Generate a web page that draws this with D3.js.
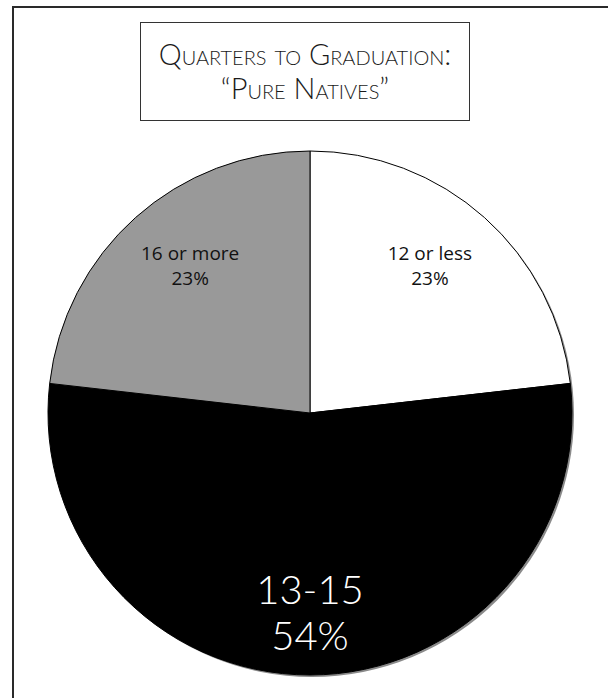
<!DOCTYPE html>
<html>
<head>
<meta charset="utf-8">
<script src="https://cdn.jsdelivr.net/npm/d3@7"></script>
<style>
  body { margin: 0; background: #fff; }
  .title { font-family: "Lato", "Noto Sans", sans-serif; font-variant: small-caps; font-weight: 300; fill: #1a1a1a; }
  .small { font-family: "Open Sans", "Noto Sans", sans-serif; fill: #111; }
  .big { font-family: "Lato", "Noto Sans", sans-serif; font-weight: 300; fill: #fff; }
</style>
</head>
<body>
<script>
(function(){

// chart data
var categories = ["12 or less", "13-15", "16 or more"];
var shares = [23.2, 53.6, 23.2];
var sliceColors = ["#ffffff", "#000000", "#999999"];
var titleLines = ["Quarters to Graduation:", "\u201cPure Natives\u201d"];

var width = 608, height = 698;

var svg = d3.select("body").append("svg")
    .attr("width", width)
    .attr("height", height);

// outer frame (runs off the right and bottom edges)
svg.append("rect")
    .attr("x", 13).attr("y", 7)
    .attr("width", 700).attr("height", 800)
    .style("fill", "none")
    .style("stroke", "#2a2a2a")
    .style("stroke-width", 2);

// title box
svg.append("rect")
    .attr("x", 140.5).attr("y", 22.5)
    .attr("width", 329).attr("height", 98)
    .style("fill", "#fff")
    .style("stroke", "#333")
    .style("stroke-width", 1);

svg.selectAll(".title")
    .data(titleLines)
    .enter()
    .append("text")
    .attr("class", "title")
    .attr("x", 305)
    .attr("y", (d, i) => 65 + i * 34)
    .attr("text-anchor", "middle")
    .style("font-size", "29px")
    .text(d => d);

// pie
var cx = 310, cy = 413, radius = 262;
var g = svg.append("g")
    .attr("transform", "translate(" + cx + "," + cy + ")");

// soft edge under the pie
g.append("circle")
    .attr("cx", 2).attr("cy", 2)
    .attr("r", radius)
    .style("fill", "#8a8a8a");

var pie = d3.pie().sort(null).value(d => d);
var arcs = pie(shares);

var arc = d3.arc().innerRadius(0).outerRadius(radius);
var labelArc = d3.arc().innerRadius(180).outerRadius(180);
var bigArc = d3.arc().innerRadius(200).outerRadius(200);

g.selectAll(".slice")
    .data(arcs)
    .enter()
    .append("path")
    .attr("class", "slice")
    .attr("d", arc)
    .style("fill", (d, i) => sliceColors[i])
    .style("stroke", "#000")
    .style("stroke-width", 1);

var fmt = d3.format(".0f");

arcs.forEach(function(d, i){
    var isBig = i === 1;
    var c = isBig ? bigArc.centroid(d) : labelArc.centroid(d);
    var lines = [categories[i], fmt(shares[i]) + "%"];
    g.append("g")
        .selectAll("text")
        .data(lines)
        .enter()
        .append("text")
        .attr("class", isBig ? "big" : "small")
        .attr("text-anchor", "middle")
        .attr("dominant-baseline", "central")
        .attr("x", c[0])
        .attr("y", (t, j) => isBig ? c[1] - 24 + j * 46 : c[1] - 26 + j * 25)
        .style("font-size", isBig ? "40px" : "19px")
        .text(t => t);
});

})();
</script>
</body>
</html>
